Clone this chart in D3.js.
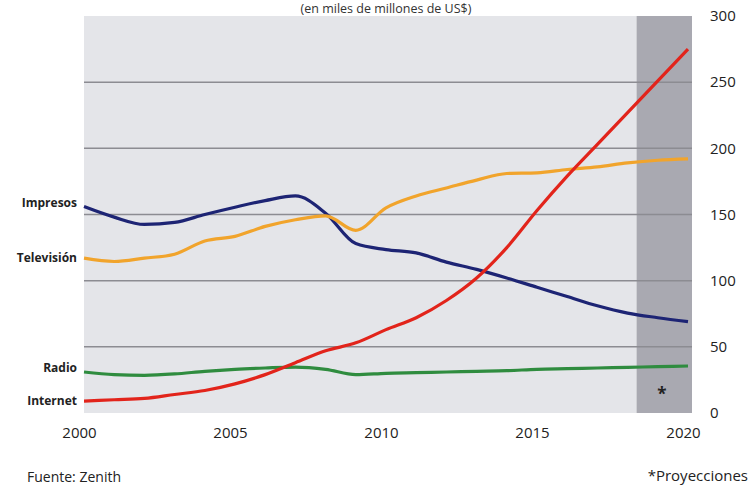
<!DOCTYPE html>
<html>
<head>
<meta charset="utf-8">
<script src="https://cdn.jsdelivr.net/npm/d3@7"></script>
<style>
  body { margin: 0; background: #fff; }
  text { font-family: "Open Sans", sans-serif; fill: #222; }
</style>
</head>
<body>
<div id="chart"></div>
<script>
// data (miles de millones de US$)
let years = d3.range(2000, 2021);
let impresos  = [156, 148, 142.5, 144, 150, 155.5, 160.5, 164, 151, 128, 123.5, 121, 114, 108.5, 102, 95, 88, 81, 75.5, 72, 69];
let television = [117, 114.5, 117, 120, 130, 133.5, 141, 146, 149, 138, 155, 164, 170, 176, 181, 181.5, 184, 186, 189, 191, 192];
let radio     = [31, 29, 28.5, 29.5, 31.5, 33, 34, 34.7, 33, 29, 30, 30.5, 31, 31.5, 32, 33, 33.5, 34, 34.5, 35, 35.5];
let internet  = [9, 10, 11, 14, 17, 22, 29, 38, 47, 53, 63, 72, 85, 102, 125, 153, 179, 203, 227, 251, 275];
let yTicks = [0, 50, 100, 150, 200, 250, 300];
let xTicks = [2000, 2005, 2010, 2015, 2020];
let projStart = 2018.3;

let series = [
  { name: "Impresos", values: impresos, color: "#1d2474", labelY: 203 },
  { name: "Televisión", values: television, color: "#f1a42c", labelY: 258 },
  { name: "Radio", values: radio, color: "#2f8c3f", labelY: 368 },
  { name: "Internet", values: internet, color: "#e2241b", labelY: 401 }
];

let width = 750, height = 486;
let plot = { left: 84, right: 692, top: 16, bottom: 413 };

let svg = d3.select("#chart").append("svg")
    .attr("width", width)
    .attr("height", height);

let x = d3.scaleLinear()
    .domain([2000, 2020])
    .range([plot.left, 688]);
let y = d3.scaleLinear()
    .domain([0, 300])
    .range([plot.bottom, plot.top]);

// panel
svg.append("rect")
    .attr("x", plot.left)
    .attr("y", plot.top)
    .attr("width", plot.right - plot.left)
    .attr("height", plot.bottom - plot.top)
    .attr("fill", "#e4e5e9");

// projection band
svg.append("rect")
    .attr("x", x(projStart))
    .attr("y", plot.top)
    .attr("width", plot.right - x(projStart))
    .attr("height", plot.bottom - plot.top)
    .attr("fill", "#a9a9b1");

// grid lines
svg.selectAll(".grid")
    .data(yTicks.filter(d => d > 0 && d < 300))
    .enter()
    .append("line")
    .attr("x1", plot.left)
    .attr("x2", plot.right)
    .attr("y1", d => y(d))
    .attr("y2", d => y(d))
    .attr("stroke", "#8c8c92")
    .attr("stroke-width", 1.5);

svg.append("clipPath")
    .attr("id", "clip")
    .append("rect")
    .attr("x", plot.left - 2)
    .attr("y", plot.top)
    .attr("width", plot.right - plot.left + 2)
    .attr("height", plot.bottom - plot.top);

let line = d3.line()
    .x((d, i) => x(years[i]))
    .y(d => y(d))
    .curve(d3.curveMonotoneX);

svg.append("g")
    .attr("clip-path", "url(#clip)")
    .selectAll("path")
    .data(series)
    .enter()
    .append("path")
    .attr("d", d => line(d.values))
    .attr("fill", "none")
    .attr("stroke", d => d.color)
    .attr("stroke-width", 3.2)
    .attr("stroke-linejoin", "round");

// series labels on the left
svg.selectAll(".lbl")
    .data(series)
    .enter()
    .append("text")
    .attr("x", 77)
    .attr("y", d => d.labelY)
    .attr("dy", "0.35em")
    .attr("text-anchor", "end")
    .style("font-size", "12px")
    .style("font-weight", "bold")
    .text(d => d.name);

// right y axis
let yAxis = d3.axisRight(y)
    .tickValues(yTicks)
    .tickSize(0)
    .tickPadding(18);
let yg = svg.append("g")
    .attr("transform", "translate(" + plot.right + ",0)")
    .call(yAxis);
yg.select(".domain").remove();
yg.selectAll("text")
    .style("font-size", "15px")
    .style("font-family", "Open Sans, sans-serif")
    .attr("fill", "#222");

// bottom x axis
let xAxis = d3.axisBottom(x)
    .tickValues(xTicks)
    .tickFormat(d3.format("d"))
    .tickSize(0)
    .tickPadding(14);
let xg = svg.append("g")
    .attr("transform", "translate(-5," + plot.bottom + ")")
    .call(xAxis);
xg.select(".domain").remove();
xg.selectAll("text")
    .style("font-size", "15px")
    .style("font-family", "Open Sans, sans-serif")
    .attr("fill", "#222");

// title
svg.append("text")
    .attr("x", 386)
    .attr("y", 13)
    .attr("text-anchor", "middle")
    .style("font-size", "12.5px")
    .style("fill", "#333")
    .text("(en miles de millones de US$)");

// asterisk in projection band
svg.append("text")
    .attr("x", 662)
    .attr("y", 400)
    .attr("text-anchor", "middle")
    .style("font-size", "17px")
    .style("font-weight", "bold")
    .text("*");

svg.append("text")
    .attr("x", 27)
    .attr("y", 482)
    .style("font-size", "14px")
    .text("Fuente: Zenith");

svg.append("text")
    .attr("x", 748)
    .attr("y", 481)
    .attr("text-anchor", "end")
    .style("font-size", "15px")
    .text("*Proyecciones");
</script>
</body>
</html>
